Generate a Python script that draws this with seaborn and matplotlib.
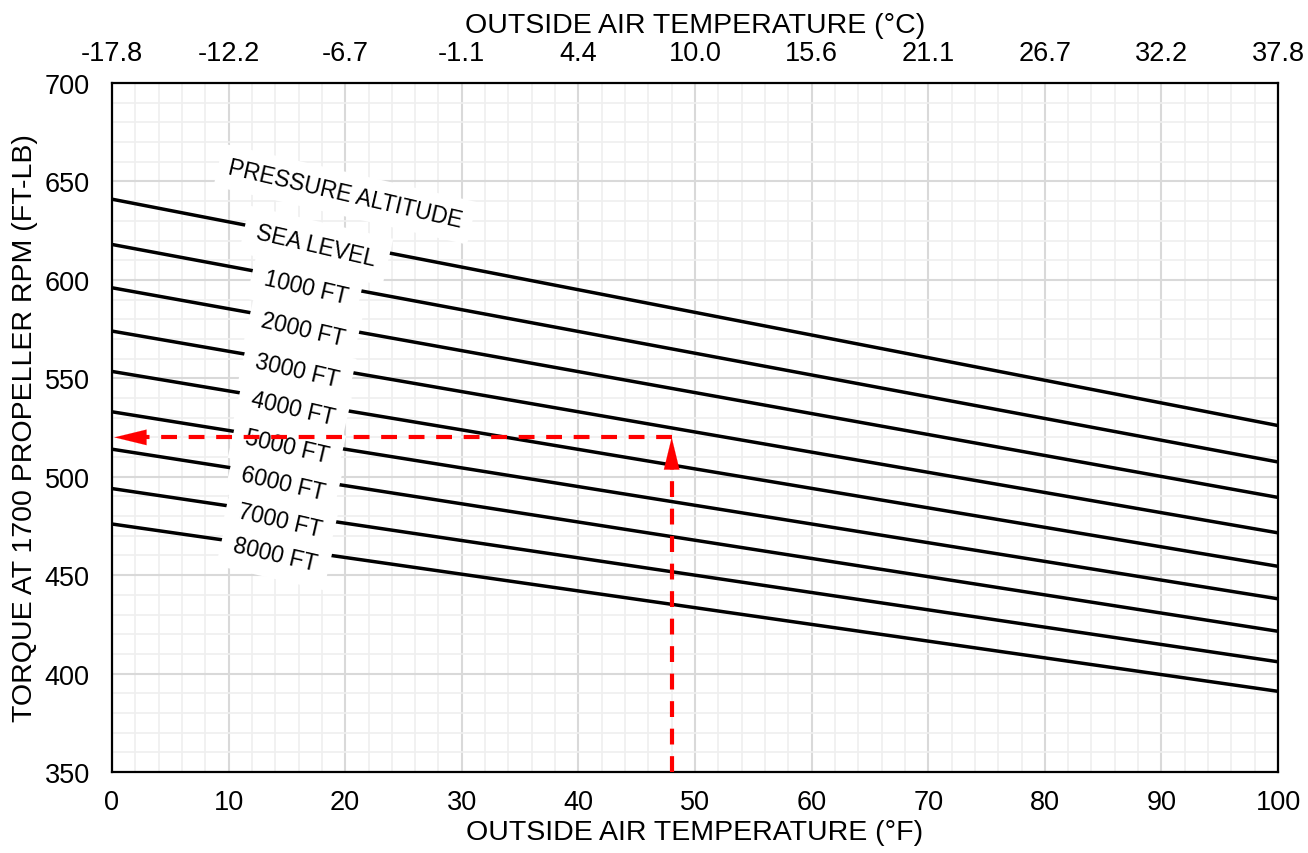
import numpy as np
import pandas as pd
import matplotlib
matplotlib.use("Agg")
import matplotlib.pyplot as plt
import seaborn as sns

# ---- data ----
altitudes = ["SEA LEVEL", "1000 FT", "2000 FT", "3000 FT", "4000 FT",
             "5000 FT", "6000 FT", "7000 FT", "8000 FT"]
oat_f = [0, 100]
torque_at_0f = [641, 618, 596, 574, 553.5, 533, 514, 494, 476]
torque_at_100f = [526, 507.5, 489.5, 471.5, 454.5, 438, 421.5, 406, 391]
label_x = [17.5, 16.6, 16.4, 15.9, 15.5, 15.0, 14.7, 14.4, 14.0]
f_ticks = [0, 10, 20, 30, 40, 50, 60, 70, 80, 90, 100]
c_labels = ["-17.8", "-12.2", "-6.7", "-1.1", "4.4", "10.0", "15.6",
            "21.1", "26.7", "32.2", "37.8"]
y_ticks = [350, 400, 450, 500, 550, 600, 650, 700]
example_oat = 48
example_torque = 520

sns.set_theme(style="white")
plt.rcParams['font.family'] = ['Liberation Sans', 'DejaVu Sans']
plt.rcParams['text.color'] = 'black'
plt.rcParams['axes.labelcolor'] = 'black'

rows = []
for name, a, b in zip(altitudes, torque_at_0f, torque_at_100f):
    rows.append({"alt": name, "oat": oat_f[0], "torque": a})
    rows.append({"alt": name, "oat": oat_f[1], "torque": b})
df = pd.DataFrame(rows)

fig = plt.figure(figsize=(13.08, 8.54), dpi=100)
ax = fig.add_axes([0.0856, 0.0948, 0.9771 - 0.0856, 0.9016 - 0.0948])

sns.lineplot(data=df, x="oat", y="torque", hue="alt",
             palette=["black"] * len(altitudes), linewidth=2.5,
             legend=False, ax=ax, zorder=3)

ax.set_xlim(0, 100)
ax.set_ylim(350, 700)
ax.set_xticks(f_ticks)
ax.set_yticks(y_ticks)
ax.set_xticks(np.arange(0, 101, 2), minor=True)
ax.set_yticks(np.arange(350, 701, 10), minor=True)
ax.grid(which="minor", color="#efefef", linewidth=1.2, zorder=0)
ax.grid(which="major", color="#d9d9d9", linewidth=1.5, zorder=0)
ax.set_axisbelow(True)
ax.tick_params(axis="both", which="both", length=0, labelsize=19.5,
               colors="black")
ax.tick_params(axis="x", pad=12)
ax.tick_params(axis="y", pad=16)
for s in ax.spines.values():
    s.set_color("black")
    s.set_linewidth(1.6)
ax.set_xlabel("OUTSIDE AIR TEMPERATURE (°F)", fontsize=20.5, labelpad=3,
              color="black")
ax.set_ylabel("TORQUE AT 1700 PROPELLER RPM (FT-LB)", fontsize=20.5,
              labelpad=5, color="black")

ax2 = ax.twiny()
ax2.set_xlim(0, 100)
ax2.set_xticks(f_ticks)
ax2.set_xticklabels(c_labels)
ax2.tick_params(axis="x", length=0, labelsize=19.5, pad=12, colors="black")
ax2.set_xlabel("OUTSIDE AIR TEMPERATURE (°C)", fontsize=20.5, labelpad=6,
               color="black")
for s in ax2.spines.values():
    s.set_visible(False)

# curve labels
for name, a, b, lx in zip(altitudes, torque_at_0f, torque_at_100f, label_x):
    ly = a + (b - a) * (lx - oat_f[0]) / (oat_f[1] - oat_f[0]) - 3.5
    ax.text(lx, ly, name, rotation=-13, rotation_mode="anchor",
            ha="center", va="center", fontsize=16.5, color="black", zorder=5,
            bbox=dict(boxstyle="square,pad=0.55", fc="white", ec="none"))
ax.text(20.0, 643.6, "PRESSURE ALTITUDE", rotation=-13, rotation_mode="anchor",
        ha="center", va="center", fontsize=16.5, color="black", zorder=5,
        bbox=dict(boxstyle="square,pad=0.45", fc="white", ec="none"))

# example dashed path
red = "#ff0000"
ax.plot([example_oat, example_oat], [350, example_torque - 10], color=red,
        lw=3, dashes=(3.8, 2.8), zorder=6)
ax.plot([example_oat, 2.0], [example_torque, example_torque], color=red,
        lw=3, dashes=(3.8, 2.8), zorder=6)
head = "-|>,head_length=1.15,head_width=0.28"
ax.annotate("", xy=(0.2, example_torque), xytext=(2.8, example_torque),
            arrowprops=dict(arrowstyle=head, color=red, lw=0.1,
                            shrinkA=0, shrinkB=0, mutation_scale=20), zorder=7)
ax.annotate("", xy=(example_oat, example_torque),
            xytext=(example_oat, example_torque - 15),
            arrowprops=dict(arrowstyle=head, color=red, lw=0.1,
                            shrinkA=0, shrinkB=0, mutation_scale=20), zorder=7)

fig.savefig("out.png", dpi=100)
